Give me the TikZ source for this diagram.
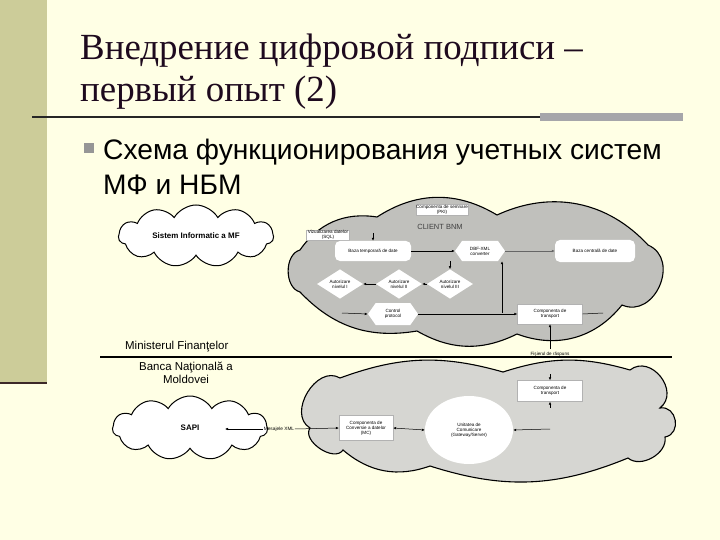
\documentclass[tikz,border=0pt]{standalone}
\usepackage{fontspec}
\setmainfont{Liberation Serif}
\setsansfont{Liberation Sans}
\usetikzlibrary{shapes.geometric,shapes.symbols,arrows.meta}
\definecolor{bg}{RGB}{255,255,229}
\definecolor{barc}{RGB}{204,204,153}
\definecolor{barline}{RGB}{60,40,40}
\definecolor{cloudA}{RGB}{192,192,188}
\definecolor{cloudB}{RGB}{214,214,210}
\definecolor{rulegray}{RGB}{166,166,170}
\definecolor{bulletc}{RGB}{150,150,150}
\definecolor{titlec}{RGB}{30,10,30}
\begin{document}
\begin{tikzpicture}[x=1bp,y=-1bp,
  titletext/.style={font=\fontsize{37}{42}\selectfont, inner sep=0pt, anchor=base west, text=titlec},
  bodytext/.style={font=\sffamily\fontsize{28.3}{32}\selectfont, inner sep=0pt, anchor=base west},
  tiny/.style={font=\sffamily\fontsize{4.6}{5.1}\selectfont, align=center, inner sep=0.5pt},
  wbox/.style={tiny, draw=gray!60, line width=0.3bp, fill=white},
  rbox/.style={tiny, fill=white, rounded corners=5bp},
  hexa/.style={tiny, signal, signal to=west and east, signal pointer angle=110, fill=white},
  dia/.style={tiny, diamond, fill=white, minimum width=46bp, minimum height=28bp, inner sep=0pt},
  cloudline/.style={line width=1.1bp, draw=black},
  wcloud/.style={cloud, cloud puffs=11, cloud puff arc=120, cloud ignores aspect, draw=black, line width=1bp, fill=white, font=\sffamily\bfseries\fontsize{8}{9}\selectfont},
  arr/.style={line width=0.5bp, -{Latex[length=3bp,width=2.6bp]}},
  plain/.style={line width=0.5bp},
  lbl/.style={font=\sffamily\fontsize{11.5}{12.5}\selectfont, inner sep=0pt, align=center}
]
\fill[bg] (0,0) rectangle (720,540);
\useasboundingbox (0,0) rectangle (720,540);
% left bar
\fill[barc] (0,0) rectangle (47,384);
\draw[line width=2bp, barline] (0,383) -- (47,383);
% title
\node[titletext] (t1) at (80,60) {Внедрение цифровой подписи –};
\node[titletext] (t2) at (80,102) {первый опыт (2)};
\draw[line width=2bp, black!85] (32,117) -- (540,117);
\fill[rulegray] (540,113) rectangle (683,121);
% bullet
\node[fill=bulletc, minimum size=10bp, inner sep=0pt] (bsq) at (89,148) {};
\node[bodytext] (s1) at (103,160) {Схема функционирования учетных систем};
\node[bodytext] (s2) at (103,195) {МФ и НБМ};

% upper gray cloud
\draw[cloudline, fill=cloudA] (377,217) to[bend left=32] (497,215) to[bend left=36] (648,245)
  to[bend left=90, looseness=1.4] (622,305) to[bend left=36] (517,334) to[bend left=28] (417,331)
  to[bend left=28] (300,292) to[bend left=75] (300,250) to[bend left=32] (377,217) -- cycle;
% lower gray cloud
\draw[cloudline, fill=cloudB] (340,378) to[bend left=18] (503,372) to[bend left=17] (630,370)
  to[bend left=90, looseness=1.4] (660,408) to[bend left=90, looseness=1.5] (665,437)
  to[bend left=70] (628,458) to[bend left=20] (430,466) to[bend left=30] (343,450)
  to[bend left=90] (310,428) to[bend left=90, looseness=1.2] (340,378) -- cycle;

% white clouds
\node[wcloud, minimum width=155bp, minimum height=62bp] (mf) at (196,236) {Sistem Informatic a MF};
\node[wcloud, minimum width=155bp, minimum height=64bp] (sapi) at (190,428) {SAPI};

% divider
\node[lbl, anchor=base west] (minf) at (125,349) {Ministerul Finanţelor};
\draw[line width=1.2bp] (100,357) -- (672,357);
\node[lbl, anchor=north] (bnm) at (186,362) {Banca Naţională a\\Moldovei};

% upper cloud content
\node[wbox, minimum width=40bp, minimum height=11bp] (pki) at (442,210) {Componenta de semnare\\(PKI)};
\node[font=\sffamily\fontsize{7.5}{8}\selectfont, text=black!75, inner sep=0pt] (client) at (440,227) {CLIENT BNM};
\node[wbox, minimum width=43bp, minimum height=10bp] (viz) at (328,235) {Vizualizarea datelor\\(SQL)};
\node[rbox, minimum width=76bp, minimum height=20bp] (baza1) at (373,251) {Baza temporară de date};
\node[hexa, minimum width=50bp, minimum height=20bp] (dbf) at (480,251) {DBF-XML\\converter};
\node[rbox, minimum width=80bp, minimum height=22bp] (baza2) at (595,251) {Baza centrală de date};
\node[dia] (d1) at (340,284) {Autorizare\\nivelul I};
\node[dia] (d2) at (399,284) {Autorizare\\nivelul II};
\node[dia] (d3) at (450,284) {Autorizare\\nivelul III};
\node[hexa, minimum width=50bp, minimum height=22bp] (ctrl) at (393,314) {Control\\protocol};
\node[wbox, minimum width=65bp, minimum height=20bp] (tr1) at (550,314) {Componenta de\\transport};
\node[tiny, anchor=base] (fis) at (550,355) {Fişierul de răspuns};

\coordinate (vin) at (373,233);
\coordinate (j1) at (502,313);
\coordinate (hl) at (342,313);
\coordinate (hr) at (603,313);
\coordinate (fv) at (550,349);

\draw[arr] (vin) -- (baza1.north);
\draw[arr] (baza1.east) -- (dbf.west);
\draw[arr, draw=black!60] (dbf.east) -- (baza2.west);
\draw[arr] (j1) -- (j1 |- dbf.south);
\draw[arr] ([yshift=8bp]d3.north) -- (d3.north);
\draw[arr] (d3.west) -- (d2.east);
\draw[arr] (d2.west) -- (d1.east);
\draw[arr] (hl) -- (ctrl.west);
\draw[arr] (ctrl.east) -- (tr1.west);
\draw[plain] (tr1.east) -- (hr);
\draw[arr] (fv) -- (tr1.south);

% lower cloud content
\node[wbox, minimum width=65bp, minimum height=21bp] (tr2) at (550,391) {Componenta de\\transport};
\node[wbox, minimum width=54bp, minimum height=25bp] (mc) at (366,428) {Componenta de\\Conversie a datelor\\(MC)};
\node[ellipse, fill=white, minimum width=88bp, minimum height=68bp, tiny] (gw) at (469,430) {Unitatea de\\Comunicare\\(Gateway/Server)};
\node[font=\sffamily\fontsize{4.8}{5}\selectfont, inner sep=0.5pt] (mxml) at (279,429) {Mesajele XML};
\coordinate (sapiin) at (225,429);
\coordinate (gwr) at (550,429);

\draw[arr] ([yshift=6bp]tr2.north) -- (tr2.north);
\draw[arr] ([yshift=-6bp]tr2.south) -- (tr2.south);
\draw[arr] (gwr) -- (gw.east);
\draw[arr, {Latex[length=3bp,width=2.6bp]}-{Latex[length=3bp,width=2.6bp]}] (mc.east) -- (gw.west);
\draw[arr] (mxml.east) -- (mc.west);
\draw[arr] (mxml.west) -- (sapiin);
\end{tikzpicture}
\end{document}
